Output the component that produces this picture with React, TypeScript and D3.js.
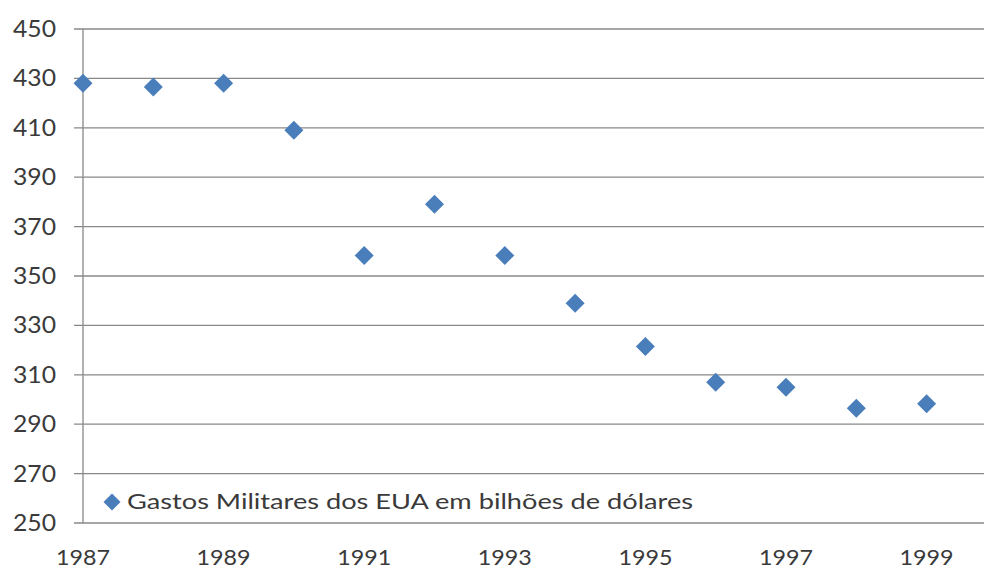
import React from "react";
import * as d3 from "d3";

// US military spending, billions of dollars
const years: number[] = [1987, 1988, 1989, 1990, 1991, 1992, 1993, 1994, 1995, 1996, 1997, 1998, 1999];
const spending: number[] = [428, 426.5, 428, 409, 358.3, 379, 358.3, 339, 321.5, 307, 305, 296.5, 298.3];
const yTicks: number[] = [250, 270, 290, 310, 330, 350, 370, 390, 410, 430, 450];
const xTicks: number[] = [1987, 1989, 1991, 1993, 1995, 1997, 1999];
const seriesName = "Gastos Militares dos EUA em bilhões de dólares";

const W = 984;
const H = 570;
const left = 83;
const top = 29;
const bottom = 523;
const grid = "#888888";
const ink = "#3a3a3a";
const blue = "#4A7EBB";
const font = "Lato, 'Open Sans', sans-serif";

const x = d3.scaleLinear().domain([1987, 2000]).range([left, left + 13 * 70.3]);
const y = d3.scaleLinear().domain([250, 450]).range([bottom, top]);

const diamond = (cx: number, cy: number, r: number) =>
  `M${cx},${cy - r}L${cx + r},${cy}L${cx},${cy + r}L${cx - r},${cy}Z`;

export default function App() {
  return (
    <svg
      width={W}
      height={H}
      style={{ position: "absolute", left: 0, top: 0, background: "#fff" }}
    >
      <rect x={0} y={0} width={W} height={H} fill="#fff" />
      {yTicks.map((t) => (
        <g key={t}>
          <line x1={left - 9} x2={W} y1={y(t)} y2={y(t)} stroke={grid} strokeWidth={1.3} />
          <text
            x={56}
            y={y(t) + 8}
            textAnchor="end"
            fontFamily={font}
            fontSize={22.5}
            fill={ink}
            textLength={43}
            lengthAdjust="spacingAndGlyphs"
          >
            {t}
          </text>
        </g>
      ))}
      <line x1={left} x2={left} y1={top} y2={bottom} stroke={grid} strokeWidth={1.3} />
      {xTicks.map((t) => (
        <text
          key={t}
          x={x(t)}
          y={565}
          textAnchor="middle"
          fontFamily={font}
          fontSize={22}
          fill={ink}
          textLength={54}
          lengthAdjust="spacingAndGlyphs"
        >
          {t}
        </text>
      ))}
      {years.map((yr, i) => (
        <path key={yr} d={diamond(x(yr), y(spending[i]), 9.5)} fill={blue} />
      ))}
      <path d={diamond(112, 502, 8.5)} fill={blue} />
      <text
        x={127}
        y={509}
        fontFamily={font}
        fontSize={22}
        fill={ink}
        textLength={566}
        lengthAdjust="spacingAndGlyphs"
      >
        {seriesName}
      </text>
    </svg>
  );
}
